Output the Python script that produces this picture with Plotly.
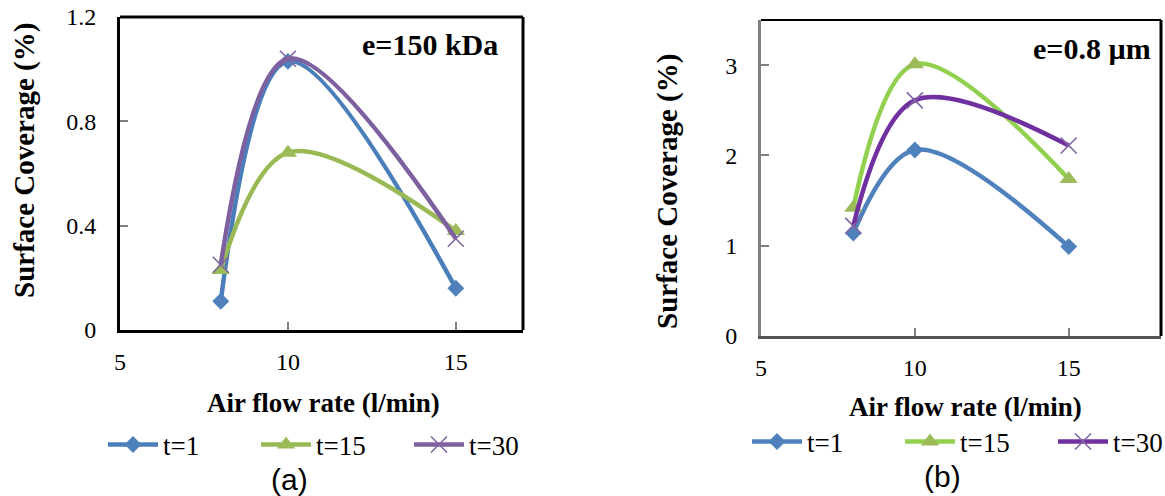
import plotly.graph_objects as go

# ---------------- data ----------------
flow_rate = [8, 10, 15]
series_names = ["t=1", "t=15", "t=30"]

# (a) e = 150 kDa
cov_a_t1 = [0.11, 1.03, 0.16]
cov_a_t15 = [0.23, 0.68, 0.38]
cov_a_t30 = [0.25, 1.04, 0.35]

# (b) e = 0.8 um
cov_b_t1 = [1.14, 2.06, 0.99]
cov_b_t15 = [1.42, 3.01, 1.74]
cov_b_t30 = [1.22, 2.61, 2.11]

x_ticks = [5, 10, 15]
y_ticks_a = [0, 0.4, 0.8, 1.2]
y_ticks_b = [0, 1, 2, 3]

# ---------------- styles ----------------
SERIF = "Liberation Serif, Times New Roman, serif"
SANS = "Liberation Sans, Arial, sans-serif"

line_cols_a = ["#4A7EBB", "#98B954", "#7D60A0"]
line_cols_b = ["#4F81BD", "#92D050", "#7030A0"]
marker_cols = ["#4F81BD", "#9BBB59", "#8064A2"]
symbols = ["diamond", "triangle-up", "x-thin-open"]
msizes = [13, 16, 16]

fig = go.Figure()

def add_series(ys, xa, ya, legend, line_cols):
    for i, (name, y) in enumerate(zip(series_names, ys)):
        mk = dict(symbol=symbols[i], size=msizes[i], color=marker_cols[i])
        if symbols[i].endswith("open"):
            mk["line"] = dict(color=marker_cols[i], width=1.6)
        fig.add_trace(go.Scatter(
            x=flow_rate, y=y, name=name, mode="lines+markers",
            line=dict(color=line_cols[i], width=4.5, shape="spline", smoothing=1.0),
            marker=mk, xaxis=xa, yaxis=ya, legend=legend,
        ))

add_series([cov_a_t1, cov_a_t15, cov_a_t30], "x", "y", "legend", line_cols_a)
add_series([cov_b_t1, cov_b_t15, cov_b_t30], "x2", "y2", "legend2", line_cols_b)

tickfont = dict(family=SERIF, size=24, color="black")

def xaxis(domain, rng, anchor, linecol):
    return dict(domain=domain, range=rng, anchor=anchor, tickvals=x_ticks,
                ticks="inside", ticklen=8, tickwidth=1.5, tickcolor="#808080",
                showline=True, linecolor=linecol, linewidth=3,
                showgrid=False, zeroline=False, tickfont=tickfont,
                ticklabelstandoff=8)

def yaxis(domain, rng, anchor, vals, linecol):
    return dict(domain=domain, range=rng, anchor=anchor, tickvals=vals,
                ticks="inside", ticklen=8, tickwidth=1.5, tickcolor="#808080",
                showline=True, linecolor=linecol, linewidth=3,
                showgrid=False, zeroline=False, tickfont=tickfont,
                ticklabelstandoff=16)

W, H = 1165, 496
dom_xa = [120 / W, 523 / W]
dom_ya = [(H - 330) / H, (H - 17) / H]
dom_xb = [761 / W, 1161 / W]
dom_yb = [(H - 336) / H, (H - 20) / H]

legfont = dict(family=SERIF, size=27, color="black")

fig.update_layout(
    width=W, height=H,
    font=dict(family=SERIF, color="black"),
    margin=dict(l=0, r=0, t=0, b=0, autoexpand=False),
    paper_bgcolor="white", plot_bgcolor="white",
    xaxis=xaxis(dom_xa, [5, 17], "y", "black"),
    yaxis=yaxis(dom_ya, [0, 1.2], "x", y_ticks_a, "black"),
    xaxis2=xaxis(dom_xb, [5, 18], "y2", "#555555"),
    yaxis2=yaxis(dom_yb, [0, 3.5], "x2", y_ticks_b, "#7F7F7F"),
    legend=dict(orientation="h", x=103 / W, xanchor="left",
                y=(H - 445) / H, yanchor="middle", font=legfont,
                itemwidth=50, entrywidth=88, bgcolor="rgba(0,0,0,0)"),
    legend2=dict(orientation="h", x=747 / W, xanchor="left",
                 y=(H - 442) / H, yanchor="middle", font=legfont,
                 itemwidth=50, entrywidth=88, bgcolor="rgba(0,0,0,0)"),
    showlegend=True,
)

# frame lines (top / right) of the plot areas
fig.add_shape(type="line", xref="x domain", yref="y domain", x0=0, x1=1, y0=1, y1=1,
              line=dict(color="black", width=3))
fig.add_shape(type="line", xref="x domain", yref="y domain", x0=1, x1=1, y0=0, y1=1,
              line=dict(color="black", width=3))
fig.add_shape(type="line", xref="x2 domain", yref="y2 domain", x0=0, x1=1, y0=1, y1=1,
              line=dict(color="black", width=2))
fig.add_shape(type="line", xref="x2 domain", yref="y2 domain", x0=1, x1=1, y0=0, y1=1,
              line=dict(color="black", width=3))

titlefont = dict(family=SERIF, size=27, color="black")
ann = [
    dict(text="<b>Air flow rate (l/min)</b>", x=323 / W, y=(H - 403) / H, font=titlefont),
    dict(text="<b>Air flow rate (l/min)</b>", x=965 / W, y=(H - 407) / H, font=titlefont),
    dict(text="<b>Surface Coverage (%)</b>", x=24 / W, y=(H - 161) / H, textangle=-90,
         font=dict(family=SERIF, size=29, color="black")),
    dict(text="<b>Surface Coverage (%)</b>", x=667 / W, y=(H - 192) / H, textangle=-90,
         font=dict(family=SERIF, size=29, color="black")),
    dict(text="<b>e=150 kDa</b>", x=500 / W, y=(H - 45) / H, xanchor="right",
         font=dict(family=SERIF, size=30, color="black")),
    dict(text="<b>e=0.8 µm</b>", x=1153 / W, y=(H - 48) / H, xanchor="right",
         font=dict(family=SERIF, size=30, color="black")),
    dict(text="(a)", x=289 / W, y=(H - 479) / H, font=dict(family=SANS, size=30, color="black")),
    dict(text="(b)", x=943 / W, y=(H - 476) / H, font=dict(family=SANS, size=30, color="black")),
]
for a in ann:
    a.setdefault("xanchor", "center")
    a.setdefault("yanchor", "middle")
    fig.add_annotation(xref="paper", yref="paper", showarrow=False, **a)

fig.write_html(
    "out.html",
    config={"displayModeBar": False},
    post_script="document.body.style.margin='0px';document.body.style.overflow='hidden';",
)
